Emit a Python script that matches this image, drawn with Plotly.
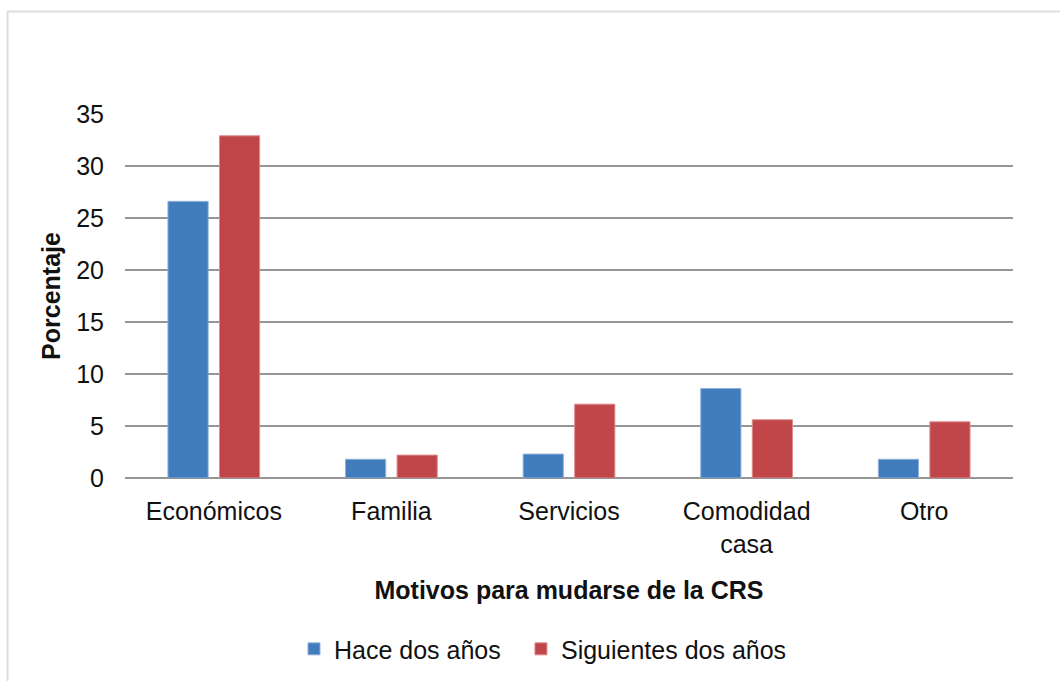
import plotly.graph_objects as go

categories = ["Económicos", "Familia", "Servicios", "Comodidad<br>casa", "Otro"]
hace_dos = [26.6, 1.8, 2.3, 8.6, 1.8]
siguientes_dos = [32.9, 2.2, 7.1, 5.6, 5.4]
series_names = ["Hace dos años", "Siguientes dos años"]
y_ticks = [0, 5, 10, 15, 20, 25, 30, 35]

FONT = "Liberation Sans, Arial, sans-serif"
FS = 25

fig = go.Figure()
fig.add_trace(go.Bar(x=categories, y=hace_dos, name=series_names[0], legend="legend",
                     marker=dict(color="#417CBD", line=dict(color="#8FB0DA", width=1))))
fig.add_trace(go.Bar(x=categories, y=siguientes_dos, name=series_names[1], legend="legend2",
                     marker=dict(color="#C0464A", line=dict(color="#DE8A8C", width=1))))

leg_common = dict(orientation="h", xanchor="left", y=-0.47, yanchor="middle",
                  font=dict(size=FS), itemwidth=30, bgcolor="rgba(0,0,0,0)")

fig.update_layout(
    width=1060, height=684,
    margin=dict(l=125, r=47, t=114, b=204),
    paper_bgcolor="white", plot_bgcolor="white",
    font=dict(family=FONT, size=FS, color="#111111"),
    barmode="group", bargap=0.42, bargroupgap=0.22,
    showlegend=True,
    legend=dict(x=0.1903, **leg_common),
    legend2=dict(x=0.4459, **leg_common),
    xaxis=dict(showgrid=False, showline=False, ticks="", tickfont=dict(size=FS),
               ticklabelstandoff=16,
               title=dict(text="<b>Motivos para mudarse de la CRS</b>", font=dict(size=FS), standoff=24)),
    yaxis=dict(range=[0, 35], tickvals=y_ticks, showgrid=True, gridcolor="#959595", gridwidth=1.5,
               zeroline=True, zerolinecolor="#959595", zerolinewidth=1.5, showline=False,
               ticklabelstandoff=20, tickfont=dict(size=FS),
               title=dict(text="<b>Porcentaje</b>", font=dict(size=FS), standoff=8)),
    shapes=[
        dict(type="line", xref="paper", yref="paper", x0=-117.5/888, x1=935/888, y0=(684-204-11)/366, y1=(684-204-11)/366,
             line=dict(color="#DDDDDD", width=2)),
        dict(type="line", xref="paper", yref="paper", x0=-117.5/888, x1=-117.5/888, y0=-204/366, y1=(684-204-11)/366,
             line=dict(color="#DDDDDD", width=2)),
    ],
)

fig.write_html("out.html")
